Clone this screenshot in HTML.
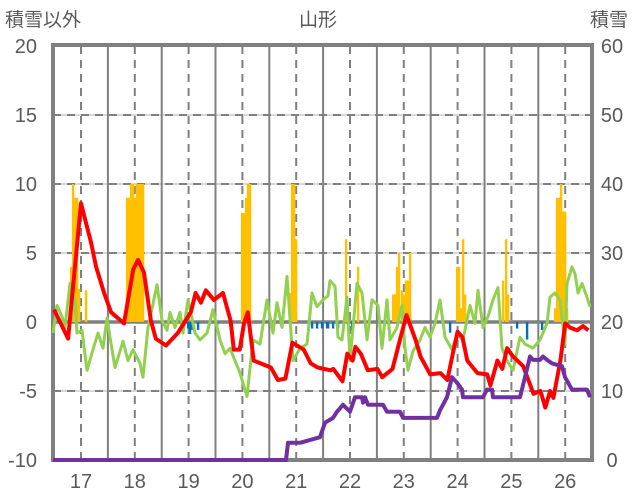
<!DOCTYPE html>
<html><head><meta charset="utf-8"><style>
body{margin:0;background:#fff;}
svg{display:block;font-family:"Liberation Sans","Noto Sans CJK JP",sans-serif;}
</style></head><body>
<svg id="chart" width="636" height="501" viewBox="0 0 636 501">
<g id="grid"></g>
<g id="bars"></g>
<g id="frame"></g>
<g id="lines"></g>
<g id="labels" fill="#595959" font-size="20"></g>
</svg>
<script>
const xTicks=[17,18,19,20,21,22,23,24,25,26];
const leftTicks=[20,15,10,5,0,-5,-10];
const rightTicks=[60,50,40,30,20,10,0];
const redT=[16.5,16.76,17.0,17.19,17.28,17.43,17.56,17.8,17.97,18.06,18.17,18.3,18.39,18.58,18.8,19.04,19.13,19.23,19.32,19.47,19.64,19.78,19.84,19.95,20.03,20.1,20.21,20.34,20.53,20.66,20.8,20.93,21.14,21.27,21.4,21.64,21.69,21.86,21.95,22.05,22.1,22.2,22.33,22.51,22.6,22.79,22.94,23.05,23.22,23.31,23.49,23.68,23.81,23.9,24.0,24.09,24.18,24.37,24.55,24.61,24.74,24.83,24.92,25.03,25.22,25.41,25.54,25.63,25.72,25.78,25.91,26.0,26.09,26.22,26.33,26.43];
const redV=[0.9,-1.2,8.6,5.7,4,2.1,0.7,-0.1,3.8,4.5,3.6,0.1,-1.2,-1.7,-0.8,0.7,2.1,1.4,2.3,1.6,2.1,0.1,-2,-2,-0.1,0.7,-2.8,-3,-3.3,-4.2,-4.1,-1.5,-2,-3,-3.3,-3.5,-3.4,-4.3,-2.3,-2.8,-1.8,-2.3,-3.5,-3.4,-4,-3.4,-1.1,0.5,-1.3,-2.5,-3.8,-3.7,-4.2,-2.5,-0.7,-1.1,-2.8,-3.7,-3.8,-4.6,-2.8,-3.4,-1.9,-2.5,-3.2,-5.2,-5,-6.2,-5,-5.5,-2.8,-0.1,-0.4,-0.6,-0.3,-0.6];
const greenX=[53,57,62,65,70,75,77,82,87,93,98,103,107,110,115,123,128,133,140,143,148,157,162,167,170,175,180,183,188,195,200,207,213,220,225,230,240,247,253,260,267,273,277,282,287,293,300,307,312,317,323,328,330,335,338,342,347,350,357,362,367,372,378,382,387,390,397,402,405,408,413,420,425,430,435,440,445,452,457,463,470,475,478,483,488,493,498,502,507,513,520,525,533,540,547,550,555,560,565,567,572,575,578,582,587,590];
const greenV=[-0.8,1.2,0.4,-0.4,2.8,1.6,-0.8,-0.6,-3.5,-2,-0.8,-1.9,0.3,-1.1,-3.3,-1.4,-2.8,-2,-3,-4,-0.4,2.7,0.1,-0.6,0.7,-0.4,0.7,-0.8,1.6,-0.8,-1.3,-0.8,0.9,-1.3,-2.3,-1.9,-3.7,-5.4,-1.3,-1.6,1.6,-0.8,1.4,-0.4,3.3,-2.8,-1.9,-1.6,2.1,1.1,1.6,1.9,3.0,2.6,-1.1,-1.3,1.8,-2.8,2.8,2.1,-1.3,1.6,1.2,-1.9,1.6,-1.3,-0.4,1.2,-1.9,-3.5,-2.1,-1.3,-0.4,-1.1,-0.1,1.6,-1.1,-2,-0.9,-1.3,1.2,-0.1,2.3,-0.4,0.4,1.6,2.5,-1.9,-2.8,-3.5,-1.1,-1.6,-1.9,-1.3,-0.1,1.8,2.1,1.6,-1.6,2.8,4.0,3.5,2.1,2.8,1.8,1.1];
const snowX=[53,286,288,300,320,325,333,337,343,350,355,362,363,365,368,383,387,400,403,437,440,447,452,457,462,463,483,487,492,493,520,525,530,533,540,543,547,552,562,565,572,587,590];
const snowV=[0,0,2.5,2.5,3.3,5.4,6.1,7,8,7,9.1,9.1,8.3,9.1,8,8,7,7,6.1,6.1,7.2,9.1,12,11.2,10.2,9.1,9.1,10.2,10.2,9.1,9.1,12,15,14.5,14.5,15,14.5,14,13.6,12,10.2,10.2,9.1];
const snowfallX=[71,73,75,77,79,86,127,129,131,133,135,137,139,141,143,242,244,246,248,250,290,292,294,296,346,358,393,395,397,399,402,404,406,408,410,457,459,461,463,465,503,506,508,555,557,559,561,563,565,567];
const snowfallV=[4,10,9,9,2.4,2.3,9,9,10,10,9,10,10,10,10,7.9,7.9,9,10,10,2.1,10,10,6,6,4,2,2,4,5,2.3,2,3,3,5,4,4,1,6,2,3,6,2,1,9,9,10,8,8,1];
const negX=[188,190,192,198,217,312,317,322,328,322,327,333,338,352,450,517,527,542];
const negV=[-0.4,-0.8,-0.5,-0.5,-0.5,-0.4,-0.4,-0.4,-0.4,-0.4,-0.4,-0.4,-0.4,-0.6,-0.7,-0.4,-1.2,-0.5];

const L=53,R=592,T=46,B=460;
const xd=t=>81+(t-17)*53.8;
const xp=p=>p;
const yL=v=>T+(20-v)*(B-T)/30;
const yR=v=>T+(60-v)*(B-T)/60;
const NS="http://www.w3.org/2000/svg";
function mk(parent,tag,attrs){const e=document.createElementNS(NS,tag);for(const k in attrs)e.setAttribute(k,attrs[k]);document.getElementById(parent).appendChild(e);return e;}

leftTicks.forEach(v=>{if(v===20||v===-10||v===0)return;
 const g=mk('grid','line',{x1:L,x2:R,y1:yL(v),y2:yL(v),stroke:'#d9d9d9','stroke-width':2});
 
 
 const d=mk('grid','line',{x1:L,x2:R,y1:yL(v),y2:yL(v),stroke:'#808080','stroke-width':2,'stroke-dasharray':'8,6'});
 
 });
xTicks.forEach(t=>{
 const d=mk('grid','line',{x1:xd(t),x2:xd(t),y1:T,y2:B,stroke:'#808080','stroke-width':2,'stroke-dasharray':'8,6'});
 
 
 const s=mk('grid','line',{x1:xd(t+0.5),x2:xd(t+0.5),y1:T,y2:B,stroke:'#808080','stroke-width':2});
 
 });
snowfallX.forEach((x,i)=>{const r=mk('bars','rect',{x:x-1.1,y:yL(snowfallV[i]),width:2.4,height:yL(0)-yL(snowfallV[i]),fill:'#ffc000'});
 
 });
negX.forEach((x,i)=>{const r=mk('bars','rect',{x:x-1.1,y:yL(0),width:2.4,height:yL(negV[i])-yL(0)+1,fill:'#0070c0'});
 
 });
const z=mk('grid','line',{x1:L,x2:R,y1:yL(0),y2:yL(0),stroke:'#808080','stroke-width':3.5});


const f=mk('frame','rect',{x:L,y:T-1,width:R-L,height:B-T+1,fill:'none',stroke:'#808080','stroke-width':4});


function pl(xs,ys,fx,fy,color,w,name){const pts=xs.map((x,i)=>fx(x).toFixed(1)+','+fy(ys[i]).toFixed(1)).join(' ');
 const p=mk('lines','polyline',{points:pts,fill:'none',stroke:color,'stroke-width':w,'stroke-linejoin':'round'});
 
 }
pl(greenX,greenV,xp,yL,'#92d050',3,'green-series-line');
pl(redT,redV,xd,yL,'#ff0000',4,'red-series-line');
pl(snowX,snowV,xp,yR,'#7030a0',4,'snow-depth-line');
leftTicks.forEach(v=>{const t=mk('labels','text',{x:37,y:yL(v)+7,'text-anchor':'end'});t.textContent=v;
 
 });
rightTicks.forEach(v=>{const t=mk('labels','text',{x:612,y:yR(v)+7,'text-anchor':'middle'});t.textContent=v;
 
 });
xTicks.forEach(d=>{const t=mk('labels','text',{x:xd(d),y:488,'text-anchor':'middle'});t.textContent=d;
 
 });
const tt=mk('labels','text',{x:318,y:26,'text-anchor':'middle','font-size':19});tt.textContent='山形';


const lt=mk('labels','text',{x:5,y:26,'font-size':19});lt.textContent='積雪以外';


const rt=mk('labels','text',{x:590,y:26,'font-size':19});rt.textContent='積雪';


</script>
</body></html>
